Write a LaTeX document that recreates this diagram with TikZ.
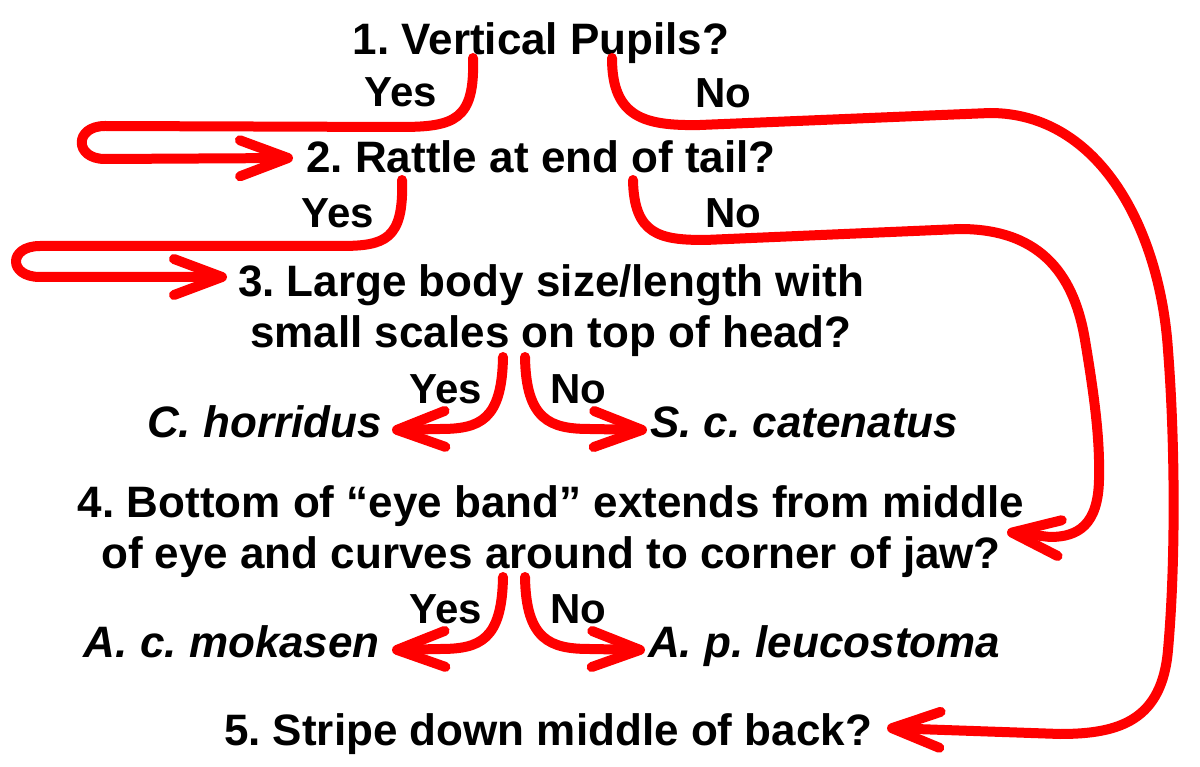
\documentclass[tikz,border=0pt]{standalone}
\usepackage{fontspec}
\setmainfont{Liberation Sans}
\usetikzlibrary{arrows.meta}
\frenchspacing
\begin{document}
\begin{tikzpicture}[x=1pt,y=-1pt,
  txt/.style={inner sep=0pt, anchor=base, font=\fontsize{44}{44}\selectfont\bfseries},
  lbl/.style={inner sep=0pt, anchor=base, font=\fontsize{42}{42}\selectfont\bfseries},
  spl/.style={inner sep=0pt, anchor=base east, font=\fontsize{44}{44}\selectfont\bfseries\itshape},
  spr/.style={inner sep=0pt, anchor=base west, font=\fontsize{44}{44}\selectfont\bfseries\itshape},
  conn/.style={draw=red, line width=10pt, line cap=round, line join=round,
    -{Straight Barb[length=48pt,width=36pt,round]}}]
\useasboundingbox (0,0) rectangle (1200,767);
\fill[white] (0,0) rectangle (1200,767);
% texts
\node[txt] (q1) at (541,55) {1. Vertical Pupils?};
\node[txt] (q2) at (541,173) {2. Rattle at end of tail?};
\node[txt] (q3a) at (551,297) {3. Large body size/length with};
\node[txt] (q3b) at (551,348) {small scales on top of head?};
\node[txt] (q4a) at (551,517) {4. Bottom of “eye band” extends from middle};
\node[txt] (q4b) at (551,568) {of eye and curves around to corner of jaw?};
\node[txt] (q5) at (548,745) {5. Stripe down middle of back?};
\node[lbl] (y1) at (401,107) {Yes};
\node[lbl] (n1) at (723,108) {No};
\node[lbl] (y2) at (338,228) {Yes};
\node[lbl] (n2) at (733,228) {No};
\node[lbl] (y3) at (446,403) {Yes};
\node[lbl] (n3) at (578,403) {No};
\node[lbl] (y4) at (446,623) {Yes};
\node[lbl] (n4) at (578,623) {No};
\node[spl] (s1) at (382,437) {C. horridus};
\node[spr] (s2) at (650,437) {S. c. catenatus};
\node[spl] (s3) at (380,657) {A. c. mokasen};
\node[spr] (s4) at (648,657) {A. p. leucostoma};
% connector ends
\coordinate (a1) at (473,58);  \coordinate (t1) at (293,158);
\coordinate (a2) at (402,180); \coordinate (t2) at (227,277);
\coordinate (b1) at (612,58);  \coordinate (u1) at (887,728);
\coordinate (b2) at (633,180); \coordinate (u2) at (1007,532);
\coordinate (c1) at (503,357); \coordinate (v1) at (392,430);
\coordinate (c2) at (525,357); \coordinate (v2) at (647,430);
\coordinate (d1) at (503,577); \coordinate (w1) at (392,650);
\coordinate (d2) at (525,577); \coordinate (w2) at (645,650);
% connectors
\draw[conn] (a1) .. controls (475,120) and (455,127) .. (400,127) -- (105,126)
  .. controls (74,126) and (74,159) .. (105,159) -- (t1);
\draw[conn] (a2) .. controls (404,240) and (385,246) .. (340,246) -- (40,246)
  .. controls (8,246) and (8,277) .. (40,277) -- (t2);
\draw[conn] (b1) .. controls (612,118) and (645,126) .. (700,125) -- (990,113)
  .. controls (1100,113) and (1160,230) .. (1168,350)
  .. controls (1175,440) and (1176,560) .. (1168,650)
  .. controls (1162,720) and (1120,734) .. (1060,734) -- (u1);
\draw[conn] (b2) .. controls (634,235) and (660,240) .. (705,240) -- (960,229)
  .. controls (1045,229) and (1075,280) .. (1085,340)
  .. controls (1095,400) and (1100,440) .. (1099,480)
  .. controls (1098,525) and (1078,537) .. (1050,537) -- (u2);
\draw[conn] (c1) .. controls (502,420) and (480,429) .. (440,429) -- (v1);
\draw[conn] (c2) .. controls (526,420) and (550,429) .. (590,429) -- (v2);
\draw[conn] (d1) .. controls (502,640) and (480,649) .. (440,649) -- (w1);
\draw[conn] (d2) .. controls (526,640) and (550,649) .. (590,649) -- (w2);
\end{tikzpicture}
\end{document}
